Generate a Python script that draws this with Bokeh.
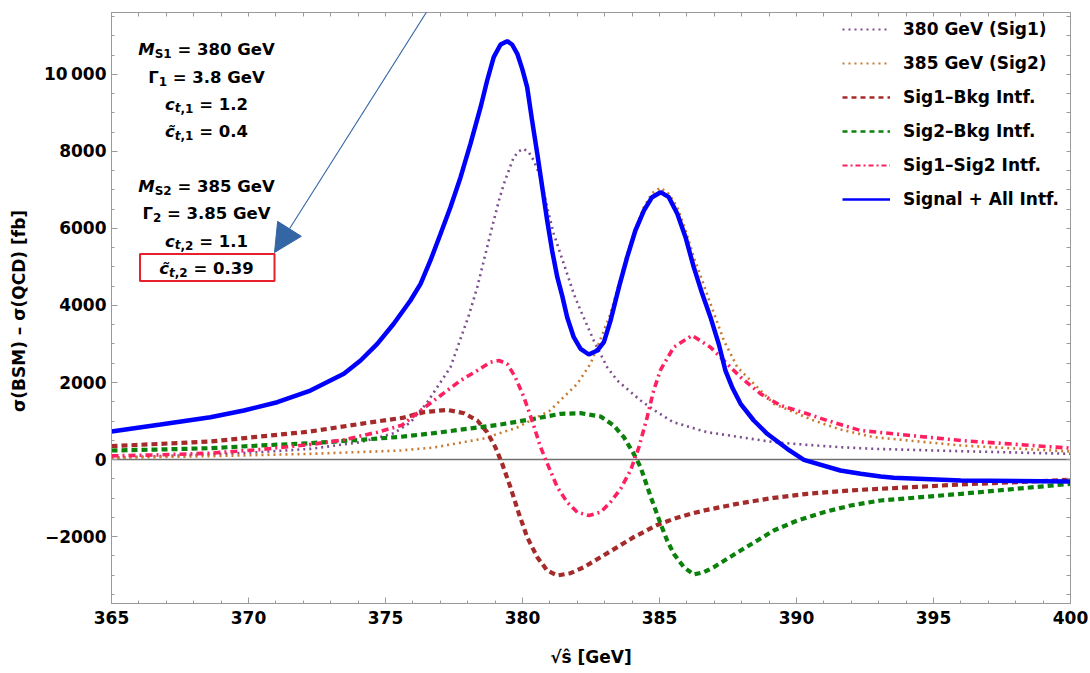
from bokeh.plotting import figure
from bokeh.models import (Range1d, LinearAxis, FixedTicker, Span, Label, BoxAnnotation,
                          Arrow, NormalHead, Legend, LegendItem)
from bokeh.embed import file_html
from bokeh.resources import INLINE

# ---------------- data ----------------
sqrt_s_total = [365.0, 366.79, 368.61, 369.83, 371.05, 372.26, 373.48, 374.09, 374.7, 375.3,
                375.91, 376.28, 376.64, 377.01, 377.37, 377.74, 378.1, 378.47, 378.71, 378.95,
                379.2, 379.44, 379.62, 379.81, 379.99, 380.17, 380.35, 380.54, 380.72, 380.9,
                381.08, 381.27, 381.45, 381.63, 381.87, 382.12, 382.42, 382.73, 382.97, 383.21,
                383.52, 383.82, 384.12, 384.43, 384.73, 385.04, 385.34, 385.65, 385.95, 386.25,
                386.56, 386.86, 387.16, 387.41, 387.65, 387.96, 388.44, 388.93, 389.66, 390.27,
                391.6, 392.34, 393.07, 393.55, 396.0, 400.0]
total = [727, 909, 1099, 1273, 1488, 1792, 2225, 2571, 3005, 3525,
         4130, 4563, 5169, 5862, 6554, 7333, 8199, 9151, 9844, 10450,
         10779, 10866, 10779, 10537, 10147, 9670, 8805, 7940, 7073, 6208,
         5429, 4735, 4250, 3696, 3177, 2875, 2727, 2831, 3050, 3600,
         4475, 5255, 5948, 6467, 6813, 6943, 6813, 6381, 5774, 4995,
         4303, 3696, 3005, 2300, 1878, 1447, 1013, 667, 278, -9,
         -286, -372, -442, -476, -545, -571]

sqrt_s_sig1 = [365.0, 368.6, 370.4, 372.26, 374.09, 375.3, 375.9, 376.52, 377.37, 378.04,
               378.35, 378.65, 378.89, 379.14, 379.32, 379.5, 379.68, 379.87, 380.03, 380.23,
               380.41, 380.66, 380.9, 381.14, 381.39, 381.63, 381.87, 382.12, 382.6, 383.09,
               383.46, 384.31, 384.92, 385.5, 386.74, 387.96, 389.17, 390.39, 391.6, 392.82,
               396.0, 400.0]
sig1 = [50, 130, 190, 277, 450, 680, 960, 1480, 2397, 3740,
        4476, 5343, 6034, 6727, 7161, 7506, 7852, 8008, 8070, 7982,
        7766, 7333, 6553, 5862, 5330, 4823, 4304, 3870, 3091, 2397,
        2052, 1532, 1229, 970, 710, 580, 450, 381, 320, 277,
        216, 147]

sqrt_s_sig2 = [365.0, 368.6, 372.26, 375.55, 376.75, 378.58, 379.8, 381.0, 382.0, 382.48,
               382.73, 383.21, 383.52, 383.82, 384.12, 384.43, 384.73, 385.04, 385.34, 385.65,
               385.95, 386.25, 386.56, 386.86, 387.35, 387.84, 389.17, 390.63, 391.6, 392.82,
               396.0, 400.0]
sig2 = [43, 87, 147, 234, 310, 545, 830, 1270, 1966, 2485,
        2917, 3784, 4560, 5343, 6000, 6555, 6920, 7056, 6900, 6555,
        5950, 5255, 4650, 4044, 3091, 2397, 1447, 1013, 780, 580,
        364, 208]

sqrt_s_i1b = [365.0, 366.79, 368.61, 370.44, 372.26, 374.09, 375.6, 376.4, 377.25, 377.86,
              378.35, 378.71, 379.01, 379.26, 379.56, 379.87, 380.17, 380.54, 380.9, 381.27,
              381.75, 382.24, 382.85, 383.46, 384.06, 384.92, 385.52, 386.13, 386.74, 387.35,
              387.96, 389.17, 390.39, 391.6, 392.34, 393.07, 396.0, 400.0]
int_sig1_bkg = [346, 407, 468, 597, 727, 927, 1080, 1229, 1290, 1203,
                1013, 710, 320, -112, -719, -1410, -2017, -2537, -2883, -3013,
                -2953, -2797, -2537, -2277, -2017, -1700, -1541, -1410, -1307, -1221,
                -1134, -996, -892, -823, -788, -762, -649, -528]

sqrt_s_i2b = [365.0, 366.79, 368.61, 370.44, 372.26, 374.09, 375.55, 376.76, 377.98, 379.2,
              380.41, 381.39, 382.12, 382.85, 383.33, 383.7, 384.06, 384.31, 384.67, 385.04,
              385.28, 385.52, 385.89, 386.25, 386.62, 386.98, 387.47, 387.96, 388.57, 389.17,
              390.03, 391.0, 391.97, 393.07, 396.0, 400.0]
int_sig2_bkg = [234, 260, 294, 364, 424, 511, 590, 684, 796, 909,
                1056, 1186, 1203, 1117, 883, 580, 148, -199, -950, -1671,
                -2104, -2450, -2797, -2987, -2927, -2797, -2580, -2364, -2104, -1844,
                -1584, -1368, -1195, -1065, -892, -632]

sqrt_s_i12 = [365.0, 366.79, 368.61, 370.44, 372.26, 373.48, 374.7, 375.6, 376.28, 377.01,
              377.74, 378.35, 378.83, 379.14, 379.44, 379.74, 380.05, 380.35, 380.66, 380.96,
              381.27, 381.63, 382.0, 382.42, 382.85, 383.21, 383.58, 383.94, 384.25, 384.55,
              384.79, 385.04, 385.52, 386.19, 386.86, 387.35, 387.96, 388.69, 389.42, 390.39,
              391.12, 392.34, 396.0, 400.0]
int_sig1_sig2 = [95, 121, 165, 260, 390, 511, 710, 890, 1273, 1662,
                 2052, 2312, 2528, 2571, 2485, 2138, 1618, 1013, 320, -199,
                 -719, -1109, -1369, -1455, -1369, -1109, -762, -286, 320, 1100,
                 1800, 2330, 2917, 3221, 2917, 2571, 2138, 1706, 1403, 1187,
                 1013, 753, 493, 294]

series_labels = ["380 GeV (Sig1)", "385 GeV (Sig2)", "Sig1\u2013Bkg Intf.",
                 "Sig2\u2013Bkg Intf.", "Sig1\u2013Sig2 Intf.", "Signal + All Intf."]

x_ticks = [365, 370, 375, 380, 385, 390, 395, 400]
x_minor = list(range(365, 401))
y_ticks = [-2000, 0, 2000, 4000, 6000, 8000, 10000]
y_minor = list(range(-3500, 11501, 500))
y_tick_text = {10000: "10\u2009000", -2000: "\u22122000"}

x_title = "\u221As\u0302 [GeV]"
y_title = "\u03c3(BSM) \u2013 \u03c3(QCD)  [fb]"

param_lines = [
    [("M", "i"), ("S1", "s"), (" = 380 GeV", "n")],
    [("\u0393", "n"), ("1", "s"), (" = 3.8 GeV", "n")],
    [("c", "i"), ("t", "si"), (",1", "s"), (" = 1.2", "n")],
    [("c\u0303", "i"), ("t", "si"), (",1", "s"), (" = 0.4", "n")],
    [("M", "i"), ("S2", "s"), (" = 385 GeV", "n")],
    [("\u0393", "n"), ("2", "s"), (" = 3.85 GeV", "n")],
    [("c", "i"), ("t", "si"), (",2", "s"), (" = 1.1", "n")],
    [("c\u0303", "i"), ("t", "si"), (",2", "s"), (" = 0.39", "n")],
]

# ---------------- layout helpers ----------------
W, H = 1090, 673
FL, FR, FT, FB = 111, 1070, 12, 603
XR = (365, 400)
YR = (-3740, 11610)
FONT = "DejaVu Sans"
FRAME_C = "#9a9a9a"


def px_x(px):
    return XR[0] + (px - FL) * (XR[1] - XR[0]) / (FR - FL)


def px_y(py):
    return YR[1] - (py - FT) * (YR[1] - YR[0]) / (FB - FT)


p = figure(width=W, height=H, x_range=Range1d(*XR), y_range=Range1d(*YR),
           output_backend="svg", toolbar_location=None,
           min_border_left=FL, min_border_right=W - FR, min_border_top=FT,
           min_border_bottom=H - FB)
p.grid.visible = False
p.outline_line_color = FRAME_C
p.background_fill_color = "white"
p.border_fill_color = "white"


def style_axis(ax):
    ax.axis_line_color = FRAME_C
    ax.major_tick_line_color = FRAME_C
    ax.minor_tick_line_color = FRAME_C
    ax.major_tick_in = 6
    ax.major_tick_out = 0
    ax.minor_tick_in = 3
    ax.minor_tick_out = 0
    ax.major_label_text_font = FONT
    ax.major_label_text_font_style = "bold"
    ax.major_label_text_color = "black"
    ax.major_label_text_font_size = "17px"
    ax.axis_label_text_font = FONT
    ax.axis_label_text_font_style = "bold"
    ax.axis_label_text_color = "black"
    ax.axis_label_text_font_size = "17px"


xa = p.xaxis[0]
xa.ticker = FixedTicker(ticks=x_ticks, minor_ticks=x_minor)
style_axis(xa)
xa.major_label_standoff = 7
xa.axis_label = x_title
xa.axis_label_standoff = 20

ya = p.yaxis[0]
ya.ticker = FixedTicker(ticks=y_ticks, minor_ticks=y_minor)
style_axis(ya)
ya.major_label_standoff = 5
ya.major_label_overrides = y_tick_text
ya.axis_label = y_title
ya.axis_label_standoff = 12

# frame ticks on top and right: all of one length, no labels
for ticks, side in ((x_minor, "above"), (y_minor + [0, 11000], "right")):
    ax = LinearAxis(ticker=FixedTicker(ticks=[], minor_ticks=sorted(set(ticks))))
    ax.axis_line_color = FRAME_C
    ax.minor_tick_line_color = FRAME_C
    ax.minor_tick_in = 4
    ax.minor_tick_out = 0
    ax.major_tick_in = 0
    ax.major_tick_out = 0
    p.add_layout(ax, side)

zero = Span(location=0, dimension="width", line_color="#707070", line_width=1.5, level="underlay")
p.add_layout(zero)

PURPLE = "#7d4e8e"
ORANGE = "#c87b30"
DRED = "#a52a2a"
GREEN = "#0b800b"
PINK = "#ff2060"
BLUE = "#0000ff"

series = [(sqrt_s_sig1, sig1, PURPLE, 2.6, "2 4", 2, "2 4"),
          (sqrt_s_sig2, sig2, ORANGE, 2.6, "2 4", 2, "2 4"),
          (sqrt_s_i1b, int_sig1_bkg, DRED, 4.2, "6 4", 2.5, "5 4"),
          (sqrt_s_i2b, int_sig2_bkg, GREEN, 4.2, "6 4", 2.5, "5 4"),
          (sqrt_s_i12, int_sig1_sig2, PINK, 3.6, "7 4 2 4", 2, "5 3 2 3"),
          (sqrt_s_total, total, BLUE, 4.5, "solid", 2.5, "solid")]

items = []
for (xs, ys, c, w, d, lw, ld), lab in zip(series, series_labels):
    p.line(xs, ys, line_color=c, line_width=w, line_dash=d)
    # hidden twin with thinner strokes, used only for the legend sample
    twin = p.line(xs, ys, line_color=c, line_width=lw, line_dash=ld, visible=False)
    items.append(LegendItem(label=lab, renderers=[twin]))

legend = Legend(items=items, location=(842 - FL, FB - 209), orientation="vertical",
                border_line_color=None, background_fill_alpha=0, padding=0, margin=0,
                spacing=14, label_height=20, glyph_height=20, glyph_width=48,
                label_standoff=13, label_text_font=FONT, label_text_font_style="bold",
                label_text_font_size="17px", label_text_color="black",
                click_policy="none")
p.add_layout(legend)

# parameter text block (built from pieces so subscripts can be drawn)
CW = {' ': 0.348, ',': 0.380, '.': 0.380, '=': 0.838, 'G': 0.821, 'M': 0.995, 'S': 0.720,
      'V': 0.774, 'e': 0.678, 'c': 0.593, 't': 0.478, '\u0393': 0.637, '\u0303': 0.0}
MAIN_SZ, SUB_SZ, SUB_DROP = 16.5, 12, 4


def seg_w(s, size):
    return sum(CW.get(ch, 0.696) for ch in s) * size


baselines = [49, 76.5, 103.5, 131, 186, 213, 240.5, 268]
cx_px = 206
for segs, bl in zip(param_lines, baselines):
    sizes = [SUB_SZ if k.startswith("s") else MAIN_SZ for _, k in segs]
    widths = [seg_w(t, sz) for (t, _), sz in zip(segs, sizes)]
    x0 = -sum(widths) / 2
    for (t, k), sz, w in zip(segs, sizes, widths):
        lead = len(t) - len(t.lstrip(" "))
        shift = lead * CW[' '] * sz
        p.add_layout(Label(x=px_x(cx_px), y=px_y(bl), x_offset=x0 + shift,
                           y_offset=-SUB_DROP if k.startswith("s") else 0,
                           text=t.lstrip(" "), text_font=FONT,
                           text_font_style="bold italic" if "i" in k else "bold",
                           text_font_size=f"{sz}px", text_color="black",
                           text_align="left", text_baseline="alphabetic"))
        x0 += w

box = BoxAnnotation(left=px_x(139.5), right=px_x(274), top=px_y(253.5), bottom=px_y(280.5),
                    fill_alpha=0, line_color="#e8202a", line_alpha=1.0, line_width=2)
p.add_layout(box)

ARROW_C = "#3465a4"
arrow = Arrow(end=NormalHead(size=28, fill_color=ARROW_C, line_color=ARROW_C),
              x_start=px_x(446), y_start=px_y(-20), x_end=px_x(274), y_end=px_y(252),
              line_color=ARROW_C, line_width=1.1)
p.add_layout(arrow)

open("out.html", "w").write(file_html(p, INLINE))
